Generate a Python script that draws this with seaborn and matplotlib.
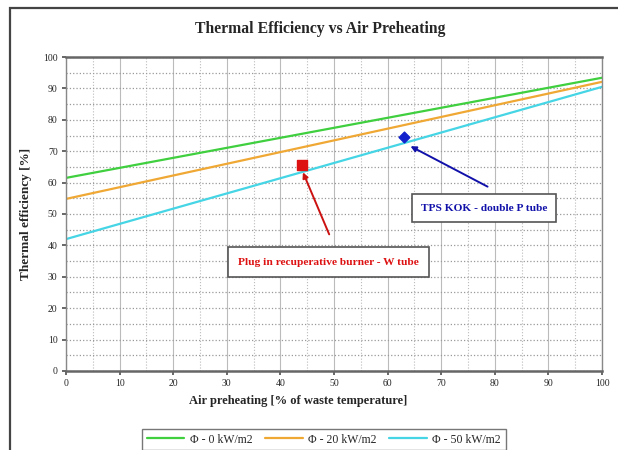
import matplotlib
matplotlib.use("Agg")
import matplotlib.pyplot as plt
from matplotlib.patches import Rectangle
from matplotlib.ticker import MultipleLocator
import seaborn as sns
import pandas as pd

# ---- data ----
preheat = [0, 100]
eff_0kw = [61.5, 93.4]
eff_20kw = [54.8, 92.1]
eff_50kw = [42.0, 90.5]
series_names = ["Φ - 0 kW/m2", "Φ - 20 kW/m2", "Φ - 50 kW/m2"]

plug_x = [44]
plug_y = [65.6]
tps_x = [63]
tps_y = [74.5]
plug_label = "Plug in recuperative burner - W tube"
tps_label = "TPS KOK - double P tube"

title = "Thermal Efficiency vs Air Preheating"
xlabel = "Air preheating [% of waste temperature]"
ylabel = "Thermal efficiency [%]"

rows = []
for name, vals in zip(series_names, [eff_0kw, eff_20kw, eff_50kw]):
    for x, y in zip(preheat, vals):
        rows.append({"x": x, "y": y, "series": name})
df = pd.DataFrame(rows)

sns.set_theme(style="white")
plt.rcParams["font.family"] = ["Liberation Serif", "DejaVu Serif"]

fig = plt.figure(figsize=(6.18, 4.5), dpi=100)
ax = fig.add_axes([0.1068, 0.1756, 0.8674, 0.6977])

palette = {"Φ - 0 kW/m2": "#3fcf3f", "Φ - 20 kW/m2": "#f0a835", "Φ - 50 kW/m2": "#45d5e5"}
sns.lineplot(data=df, x="x", y="y", hue="series", palette=palette, ax=ax,
             linewidth=1.6, legend=True)

ax.scatter(plug_x, plug_y, marker="s", s=45, color="#dd1111", zorder=5)
ax.scatter(tps_x, tps_y, marker="D", s=30, color="#1122cc", zorder=5)

ax.set_xlim(0, 100)
ax.set_ylim(0, 100)
ax.xaxis.set_major_locator(MultipleLocator(10))
ax.yaxis.set_major_locator(MultipleLocator(10))
ax.xaxis.set_minor_locator(MultipleLocator(5))
ax.yaxis.set_minor_locator(MultipleLocator(5))
ax.grid(which="major", axis="x", color="#bbbbbb", linewidth=0.8, linestyle="-")
ax.grid(which="minor", axis="x", color="#bbbbbb", linewidth=0.8, linestyle=":")
ax.grid(which="both", axis="y", color="#999999", linewidth=0.9, linestyle=":")
ax.tick_params(axis="both", which="major", labelsize=7, length=3, direction="out",
               bottom=True, left=True, color="#555555", pad=3)
ax.tick_params(axis="both", which="minor", length=0)
for side in ["left", "right"]:
    ax.spines[side].set_color("#888888")
    ax.spines[side].set_linewidth(1.0)
for side in ["top", "bottom"]:
    ax.spines[side].set_color("#666666")
    ax.spines[side].set_linewidth(1.8)

ax.set_xlabel(xlabel, fontsize=9, fontweight="bold", labelpad=6)
ax.xaxis.set_label_coords(0.433, -0.078)
ax.set_ylabel(ylabel, fontsize=9.5, fontweight="bold", labelpad=8)
fig.text(0.518, 0.936, title, ha="center", va="center", fontsize=11.3, fontweight="bold")

# annotations
box_red = dict(boxstyle="square,pad=0.9", fc="white", ec="#555555", lw=1.2)
box_blue = dict(boxstyle="square,pad=0.8", fc="white", ec="#555555", lw=1.2)
ax.annotate("", xy=(plug_x[0], plug_y[0] - 1.5), xytext=(49.3, 42.7),
            arrowprops=dict(arrowstyle="-|>", color="#cc1111", lw=1.4, mutation_scale=8))
ax.text(48.9, 34.7, plug_label, ha="center", va="center", fontsize=8.2,
        fontweight="bold", color="#dd1111", bbox=box_red)
ax.annotate("", xy=(tps_x[0] + 0.8, tps_y[0] - 2.5), xytext=(79.1, 58.3),
            arrowprops=dict(arrowstyle="-|>", color="#1111aa", lw=1.4, mutation_scale=8))
ax.text(78.0, 51.9, tps_label, ha="center", va="center", fontsize=8.2,
        fontweight="bold", color="#1111aa", bbox=box_blue)

# legend at bottom
handles, labels = ax.get_legend_handles_labels()
ax.get_legend().remove()
leg = fig.legend(handles, labels, loc="upper center", bbox_to_anchor=(0.524, 0.06),
                 ncol=3, fontsize=8.5, frameon=True, fancybox=False,
                 handlelength=3.2, columnspacing=1.0, borderpad=0.4, handletextpad=0.5)
leg.get_frame().set_edgecolor("#555555")
leg.get_frame().set_linewidth(1.0)

# outer chart border
fig.patches.append(Rectangle((10 / 618, -0.05), 1.2, 1 - 8 / 450 + 0.05,
                             transform=fig.transFigure, fill=False,
                             ec="#444444", lw=1.6, zorder=0))

fig.savefig("out.png", dpi=100)
